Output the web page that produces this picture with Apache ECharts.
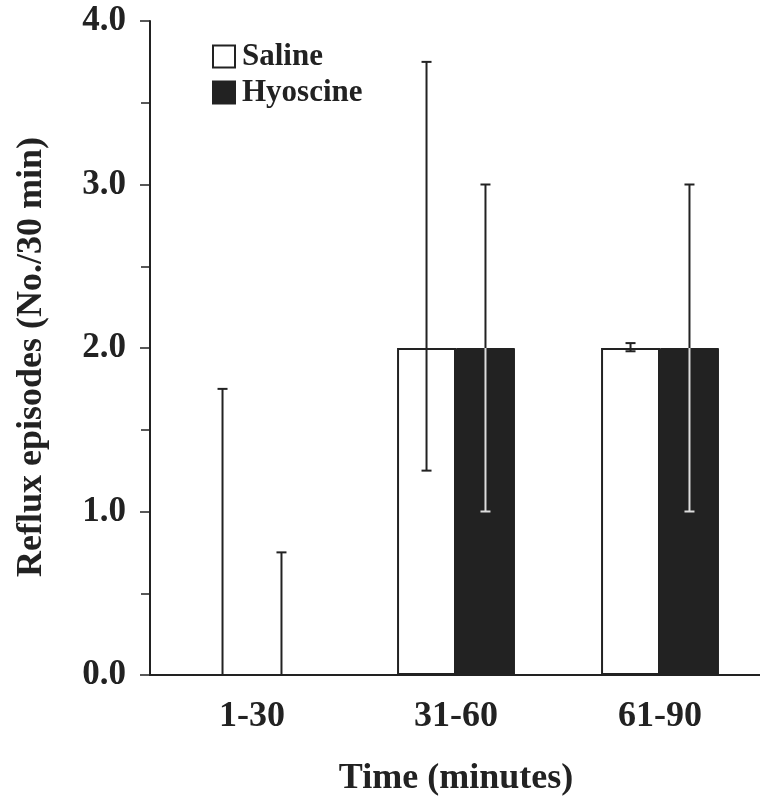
<!DOCTYPE html>
<html>
<head>
<meta charset="utf-8">
<script src="https://cdn.jsdelivr.net/npm/echarts@6/dist/echarts.min.js"></script>
<style>
html,body{margin:0;padding:0;background:#fff;}
#chart{width:760px;height:798px;}
</style>
</head>
<body>
<div id="chart"></div>
<script>
const categories = ['1-30', '31-60', '61-90'];
const salineMean = [0, 2.0, 2.0];
const salineLow = [0, 1.25, 1.98];
const salineHigh = [1.75, 3.75, 2.03];
const hyoscineMean = [0, 2.0, 2.0];
const hyoscineLow = [0, 1.0, 1.0];
const hyoscineHigh = [0.75, 3.0, 3.0];
const yTicks = [0, 1, 2, 3, 4];

const FONT = '"Liberation Serif", "Times New Roman", serif';
const INK = '#222';
const BAR_FRAC = 0.289;

function errorSeries(name, means, lows, highs, offsetSign, innerColor) {
  return {
    type: 'custom',
    name: name + ' error',
    z: 10,
    silent: true,
    data: categories.map((c, i) => [i, means[i], lows[i], highs[i]]),
    renderItem: function (params, api) {
      const idx = api.value(0);
      const mean = api.value(1);
      const lo = api.value(2);
      const hi = api.value(3);
      const bandW = api.size([1, 0])[0];
      const x = api.coord([idx, 0])[0] + offsetSign * bandW * BAR_FRAC / 2;
      const yMean = api.coord([idx, mean])[1];
      const yLo = api.coord([idx, lo])[1];
      const yHi = api.coord([idx, hi])[1];
      const cap = 5;
      const children = [];
      children.push({type: 'line', shape: {x1: x, y1: yMean, x2: x, y2: yHi}, style: {stroke: INK, lineWidth: 2}});
      children.push({type: 'line', shape: {x1: x - cap, y1: yHi, x2: x + cap, y2: yHi}, style: {stroke: INK, lineWidth: 2}});
      if (lo < mean) {
        children.push({type: 'line', shape: {x1: x, y1: yMean, x2: x, y2: yLo}, style: {stroke: innerColor, lineWidth: 2}});
        children.push({type: 'line', shape: {x1: x - cap, y1: yLo, x2: x + cap, y2: yLo}, style: {stroke: innerColor, lineWidth: 2}});
      }
      return {type: 'group', children: children};
    }
  };
}

const chart = echarts.init(document.getElementById('chart'), null, {renderer: 'canvas'});
chart.setOption({
  backgroundColor: '#fff',
  animation: false,
  textStyle: {fontFamily: FONT, color: INK},
  grid: {left: 150, right: -2, top: 21, bottom: 123, containLabel: false, outerBoundsMode: 'none'},
  legend: {
    orient: 'vertical',
    left: 207,
    top: 36,
    itemWidth: 22,
    itemHeight: 22,
    itemGap: 5,
    icon: 'rect',
    data: ['Saline', 'Hyoscine'],
    textStyle: {fontFamily: FONT, fontWeight: 'bold', fontSize: 31, color: INK, padding: [0, 0, 0, 2]}
  },
  xAxis: {
    type: 'category',
    data: categories,
    axisLine: {lineStyle: {color: INK, width: 2}},
    axisTick: {show: false},
    axisLabel: {fontFamily: FONT, fontWeight: 'bold', fontSize: 36, color: INK, margin: 24},
    name: 'Time (minutes)',
    nameLocation: 'middle',
    nameGap: 86,
    nameTextStyle: {fontFamily: FONT, fontWeight: 'bold', fontSize: 36, color: INK}
  },
  yAxis: {
    type: 'value',
    min: 0,
    max: 4,
    interval: 1,
    axisLine: {show: true, lineStyle: {color: INK, width: 2}},
    axisTick: {show: true, length: 10, lineStyle: {color: INK, width: 1.5}},
    minorTick: {show: true, splitNumber: 2, length: 9, lineStyle: {color: INK, width: 1.5}},
    splitLine: {show: false},
    axisLabel: {
      fontFamily: FONT, fontWeight: 'bold', fontSize: 35, color: INK, margin: 24,
      formatter: v => yTicks.includes(v) ? v.toFixed(1) : ''
    },
    name: 'Reflux episodes (No./30 min)',
    nameLocation: 'middle',
    nameGap: 100,
    nameTextStyle: {fontFamily: FONT, fontWeight: 'bold', fontSize: 36, color: INK, padding: [0, 18, 0, 0]}
  },
  series: [
    {
      name: 'Saline',
      type: 'bar',
      data: salineMean,
      barWidth: (BAR_FRAC * 100) + '%',
      barGap: '0%',
      itemStyle: {color: '#fff', borderColor: INK, borderWidth: 2}
    },
    {
      name: 'Hyoscine',
      type: 'bar',
      data: hyoscineMean,
      barWidth: (BAR_FRAC * 100) + '%',
      barGap: '0%',
      itemStyle: {color: INK, borderColor: INK, borderWidth: 1}
    },
    errorSeries('Saline', salineMean, salineLow, salineHigh, -1, INK),
    errorSeries('Hyoscine', hyoscineMean, hyoscineLow, hyoscineHigh, 1, '#ddd')
  ]
});
</script>
</body>
</html>
